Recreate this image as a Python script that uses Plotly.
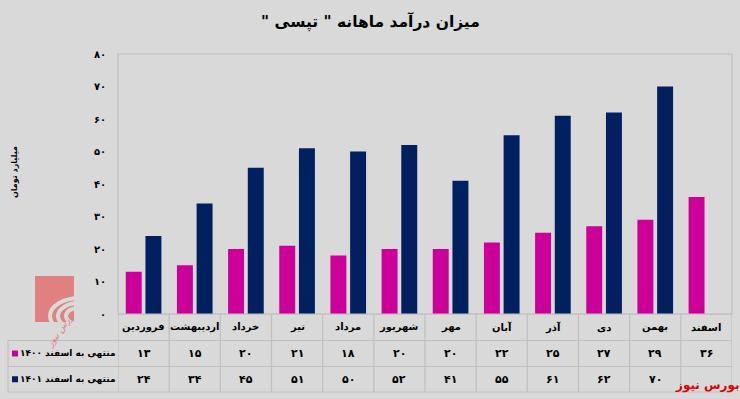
import plotly.graph_objects as go

categories = ["فروردین", "اردیبهشت", "خرداد", "تیر", "مرداد", "شهریور",
              "مهر", "آبان", "آذر", "دی", "بهمن", "اسفند"]
series_1400 = [13, 15, 20, 21, 18, 20, 20, 22, 25, 27, 29, 36]
series_1401 = [24, 34, 45, 51, 50, 52, 41, 55, 61, 62, 70, None]
name_1400 = "منتهی به اسفند ۱۴۰۰"
name_1401 = "منتهی به اسفند ۱۴۰۱"
y_ticks = [0, 10, 20, 30, 40, 50, 60, 70, 80]
title_text = 'میزان درآمد ماهانه " تپسی "\u200f'
y_title = "میلیارد تومان"
brand = "بورس نیوز"

PINK = "#CC0099"
NAVY = "#002060"
BG = "#D9D9D9"
LINE = "#BFBFBF"
FONT = "DejaVu Sans"

W, H = 740, 399
ML, MR, MT, MB = 118, 8, 54, 85
PW = W - ML - MR
PH = H - MT - MB


def px(x):
    return (x - ML) / PW


def py(y):
    return (H - MB - y) / PH


fa_digits = str.maketrans("0123456789", "۰۱۲۳۴۵۶۷۸۹")


def fa(v):
    return str(v).translate(fa_digits)


fig = go.Figure()
fig.add_trace(go.Bar(x=categories, y=series_1400, name=name_1400,
                     marker=dict(color=PINK, line=dict(width=0))))
fig.add_trace(go.Bar(x=categories, y=series_1401, name=name_1401,
                     marker=dict(color=NAVY, line=dict(width=0))))

shapes = []
annotations = []

# plot border
shapes.append(dict(type="rect", xref="paper", yref="paper", x0=0, x1=1, y0=0, y1=1,
                   line=dict(color=LINE, width=1.2), layer="below"))

# table lines
row_y = [py(314), py(340.5), py(366.5), py(392)]
shapes.append(dict(type="line", xref="paper", yref="paper", x0=0, x1=1,
                   y0=row_y[0], y1=row_y[0], line=dict(color=LINE, width=1.2)))
for yy in row_y[1:]:
    shapes.append(dict(type="line", xref="paper", yref="paper", x0=px(8), x1=1,
                       y0=yy, y1=yy, line=dict(color=LINE, width=1.2)))
shapes.append(dict(type="line", xref="paper", yref="paper", x0=px(8), x1=px(8),
                   y0=row_y[1], y1=row_y[3], line=dict(color=LINE, width=1.2)))
for k in range(len(categories) + 1):
    shapes.append(dict(type="line", xref="x", yref="paper", x0=k - 0.5, x1=k - 0.5,
                       y0=row_y[0], y1=row_y[3], line=dict(color=LINE, width=1.2)))

# table text
hdr_y = (row_y[0] + row_y[1]) / 2
r1_y = (row_y[1] + row_y[2]) / 2
r2_y = (row_y[2] + row_y[3]) / 2
hfont = dict(family=FONT, size=10, color="#000000")
tfont = dict(family=FONT, size=11, color="#000000")
for i, c in enumerate(categories):
    annotations.append(dict(x=c, y=hdr_y, xref="x", yref="paper", text="<b>%s</b>" % c,
                            showarrow=False, font=hfont, xanchor="center", yanchor="middle"))
    annotations.append(dict(x=c, y=r1_y, xref="x", yref="paper",
                            text="<b>%s</b>" % fa(series_1400[i]),
                            showarrow=False, font=tfont, xanchor="center", yanchor="middle"))
    if series_1401[i] is not None:
        annotations.append(dict(x=c, y=r2_y, xref="x", yref="paper",
                                text="<b>%s</b>" % fa(series_1401[i]),
                                showarrow=False, font=tfont, xanchor="center", yanchor="middle"))

# row labels with legend keys
for yy, name, col in [(r1_y, name_1400, PINK), (r2_y, name_1401, NAVY)]:
    annotations.append(dict(x=px(117), y=yy, xref="paper", yref="paper",
                            text="<b>%s</b>" % name, showarrow=False,
                            font=dict(family=FONT, size=9, color="#000"),
                            xanchor="right", yanchor="middle"))
    cy = H - MB - yy * PH
    shapes.append(dict(type="rect", xref="paper", yref="paper",
                       x0=px(12), x1=px(18), y0=py(cy + 3), y1=py(cy - 3),
                       fillcolor=col, line=dict(width=0)))

# y tick labels (Persian digits)
for t in y_ticks:
    annotations.append(dict(x=px(108), y=t, xref="paper", yref="y",
                            text="<b>%s</b>" % fa(t), showarrow=False,
                            font=dict(family=FONT, size=10, color="#000"),
                            xanchor="right", yanchor="middle"))

# y title
annotations.append(dict(x=px(14), y=py(172), xref="paper", yref="paper",
                        text="<b>%s</b>" % y_title, showarrow=False, textangle=-90,
                        font=dict(family=FONT, size=8, color="#000"),
                        xanchor="center", yanchor="middle"))

# title
annotations.append(dict(x=px(370), y=py(22), xref="paper", yref="paper",
                        text="<b>%s</b>" % title_text,
                        showarrow=False, font=dict(family=FONT, size=15.5, color="#000"),
                        xanchor="center", yanchor="middle"))

# brand text
annotations.append(dict(x=px(707), y=py(385), xref="paper", yref="paper",
                        text="<b>%s</b>" % brand, showarrow=False,
                        font=dict(family=FONT, size=12, color="#E00000"),
                        xanchor="center", yanchor="middle"))

# watermark logo
LOGO = "#E08080"
shapes.append(dict(type="rect", xref="paper", yref="paper", x0=px(35), x1=px(74),
                   y0=py(322), y1=py(276), fillcolor=LOGO, line=dict(width=0), layer="below"))
for r, w in [(30, 4), (22, 4), (14, 4)]:
    cx, cy = 80, 316
    shapes.append(dict(type="circle", xref="paper", yref="paper",
                       x0=px(cx - r), x1=px(cx + r), y0=py(cy + r * 0.6), y1=py(cy - r * 0.6),
                       line=dict(color=BG, width=w), layer="below"))
shapes.append(dict(type="rect", xref="paper", yref="paper", x0=px(74), x1=px(112),
                   y0=py(340), y1=py(270), fillcolor=BG, line=dict(width=0), layer="below"))
shapes.append(dict(type="rect", xref="paper", yref="paper", x0=px(30), x1=px(74),
                   y0=py(340), y1=py(322.5), fillcolor=BG, line=dict(width=0), layer="below"))
annotations.append(dict(x=px(60), y=py(330), xref="paper", yref="paper",
                        text="<i>%s</i>" % brand, showarrow=False, textangle=-55,
                        font=dict(family=FONT, size=9, color=LOGO),
                        xanchor="center", yanchor="middle"))

fig.update_layout(
    width=W, height=H,
    margin=dict(l=ML, r=MR, t=MT, b=MB),
    paper_bgcolor=BG, plot_bgcolor=BG,
    barmode="group", bargap=0.23, bargroupgap=0.19,
    showlegend=False,
    hovermode=False,
    xaxis=dict(range=[-0.5, len(categories) - 0.5], autorange=False,
               showticklabels=False, showgrid=False, zeroline=False, showline=False,
               ticks="", fixedrange=True),
    yaxis=dict(range=[0, 80], autorange=False, showticklabels=False, showgrid=False,
               zeroline=False, showline=False, ticks="", tickvals=y_ticks, fixedrange=True),
    shapes=shapes,
    annotations=annotations,
)

fig.write_html("out.html", config={"displayModeBar": False},
               post_script="document.body.style.margin='0';document.body.style.overflow='hidden';")
